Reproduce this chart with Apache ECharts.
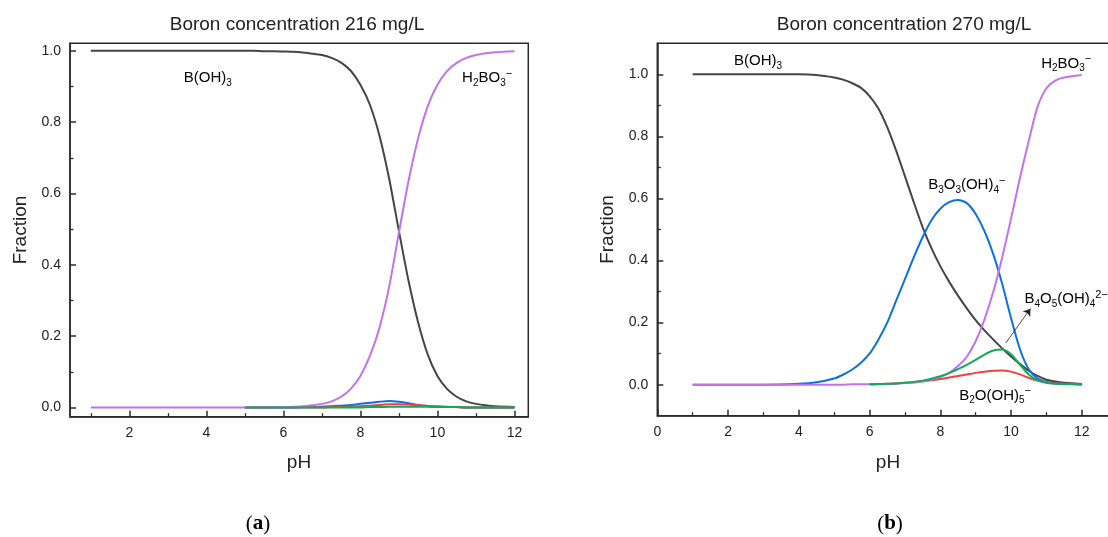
<!DOCTYPE html>
<html><head><meta charset="utf-8">
<script src="https://cdn.jsdelivr.net/npm/echarts@6/dist/echarts.min.js"></script>
<style>html,body{margin:0;padding:0;background:#fff}#c{width:1108px;height:537px}</style>
</head><body><div id="c"></div>
<script>
// ---------- data ----------
const pH = [1,2,3,4,4.5,5,5.25,5.5,5.75,6,6.25,6.5,6.75,7,7.25,7.5,7.75,8,8.25,8.5,8.75,9,9.25,9.5,9.75,10,10.25,10.5,10.75,11,11.25,11.5,12];

// (a) Boron 216 mg/L
const bOH3_A   = [1,1,1,1,1,1,1,0.999,0.999,0.998,0.997,0.995,0.992,0.988,0.98,0.967,0.944,0.905,0.848,0.76,0.64,0.495,0.355,0.238,0.148,0.088,0.052,0.03,0.017,0.01,0.006,0.003,0.001];
const h2bo3_A  = [0,0,0,0,0,0,0,0,0,0.001,0.002,0.003,0.006,0.01,0.017,0.03,0.052,0.088,0.145,0.225,0.34,0.49,0.635,0.755,0.845,0.905,0.943,0.966,0.98,0.988,0.993,0.996,0.999];
const b3o3_A   = [null,null,null,null,null,0,0,0,0,0,0,0.001,0.001,0.002,0.003,0.005,0.007,0.01,0.013,0.016,0.018,0.016,0.012,0.007,0.004,0.002,0.001,0.001,0,0,0,0,0];
const b2o_A    = [null,null,null,null,null,0,0,0,0,0,0,0,0,0,0.001,0.001,0.002,0.003,0.005,0.007,0.009,0.009,0.008,0.006,0.004,0.003,0.002,0.001,0,0,0,0,0];
const b4o5_A   = [null,null,null,null,null,0,0,0,0,0,0,0,0,0,0,0,0,0,0.001,0.001,0.002,0.002,0.002,0.002,0.002,0.001,0.001,0.001,0,0,0,0,0];

// (b) Boron 270 mg/L
const bOH3_B   = [1,1,1,1,0.998,0.99,0.983,0.972,0.957,0.93,0.89,0.83,0.755,0.672,0.588,0.508,0.44,0.382,0.332,0.287,0.246,0.208,0.175,0.145,0.117,0.091,0.067,0.045,0.028,0.016,0.01,0.006,0.002];
const b3o3_B   = [0,0,0,0.003,0.008,0.02,0.032,0.048,0.07,0.1,0.145,0.2,0.27,0.34,0.41,0.475,0.53,0.567,0.588,0.595,0.585,0.55,0.495,0.42,0.325,0.215,0.115,0.05,0.02,0.009,0.005,0.003,0.001];
const h2bo3_B  = [0,0,0,0,0,0,0,0.001,0.001,0.001,0.002,0.002,0.003,0.005,0.007,0.01,0.016,0.025,0.038,0.06,0.09,0.14,0.21,0.3,0.41,0.535,0.665,0.785,0.895,0.955,0.98,0.99,0.998];
const b4o5_B   = [null,null,null,null,null,null,null,null,null,0.001,0.002,0.003,0.004,0.006,0.009,0.013,0.019,0.027,0.037,0.05,0.064,0.08,0.097,0.11,0.113,0.098,0.065,0.033,0.014,0.006,0.003,0.002,0];
const b2o_B    = [null,null,null,null,null,null,null,null,null,0.001,0.002,0.003,0.004,0.006,0.008,0.011,0.014,0.018,0.023,0.028,0.033,0.038,0.042,0.045,0.046,0.042,0.033,0.022,0.013,0.007,0.004,0.003,0.001];

// tick labels
const xTicksA = [2,4,6,8,10,12];
const xMinorA = [1,3,5,7,9,11];
const xTicksB = [0,2,4,6,8,10,12,14];
const xMinorB = [1,3,5,7,9,11,13];
const yTicks  = [0,0.2,0.4,0.6,0.8,1.0];
const yMinor  = [0.1,0.3,0.5,0.7,0.9];

// texts
const titleA = 'Boron concentration 216 mg/L';
const titleB = 'Boron concentration 270 mg/L';

// ---------- chart ----------
const FF = '"Liberation Sans", Arial, sans-serif';
const AX = '#2b2b2b';
const C = {black:'#454545', purple:'#c173ea', blue:'#0b70e2', green:'#13a95b', red:'#f2403f'};

function mainX(gi, min, max, ticks){
  return {type:'value', gridIndex:gi, min, max, position:'bottom',
    axisLine:{show:true, onZero:false, lineStyle:{color:AX, width:1.5}},
    axisTick:{show:true, inside:true, length:6, customValues:ticks, lineStyle:{color:AX, width:1.5}},
    axisLabel:{customValues:ticks, margin:9, color:'#222', fontSize:14, fontFamily:FF},
    splitLine:{show:false}};
}
function minorAx(gi, min, max, ticks, len, pos){
  return {type:'value', gridIndex:gi, min, max, position:pos,
    axisLine:{show:false, onZero:false},
    axisTick:{show:true, inside:true, length:len, customValues:ticks, lineStyle:{color:AX, width:1.3}},
    axisLabel:{show:false, customValues:ticks}, splitLine:{show:false}};
}
function mainY(gi, min, max, ticks){
  return {type:'value', gridIndex:gi, min, max, position:'left',
    name:'Fraction', nameLocation:'middle', nameGap:40,
    nameTextStyle:{fontSize:19, color:'#222', fontFamily:FF},
    axisLine:{show:true, onZero:false, lineStyle:{color:AX, width:1.5}},
    axisTick:{show:true, inside:true, length:6, customValues:ticks, lineStyle:{color:AX, width:1.5}},
    axisLabel:{customValues:ticks, margin:9, color:'#222', fontSize:14, fontFamily:FF, formatter:v=>v.toFixed(1)},
    splitLine:{show:false}};
}
function mk(name, ys, color, xi, yi, z, extra){
  const data = [];
  pH.forEach((x,i)=>{ if(ys[i]!=null) data.push([x, ys[i]]); });
  return Object.assign({name, type:'line', xAxisIndex:xi, yAxisIndex:yi, data, symbol:'none', showSymbol:false,
    smooth:0.25, lineStyle:{color, width:2}, itemStyle:{color}, z, animation:false}, extra||{});
}

const chart = echarts.init(document.getElementById('c'), null, {renderer:'canvas'});
const option = {
  animation:false,
  backgroundColor:'#fff',
  grid:[
    {left:70, top:43.3, width:458.3, height:373.4, show:true, borderColor:AX, borderWidth:1.5, backgroundColor:'transparent', containLabel:false, outerBoundsMode:'none'},
    {left:657.3, top:43.3, width:495.2, height:372.4, show:true, borderColor:AX, borderWidth:1.5, backgroundColor:'transparent', containLabel:false, outerBoundsMode:'none'}
  ],
  xAxis:[
    mainX(0, 0.46, 12.36, xTicksA),
    minorAx(0, 0.46, 12.36, xMinorA, 3.5, 'bottom'),
    mainX(1, 0, 14, xTicksB),
    minorAx(1, 0, 14, xMinorB, 3.5, 'bottom')
  ],
  yAxis:[
    mainY(0, -0.026, 1.021, yTicks),
    minorAx(0, -0.026, 1.021, yMinor, 3.5, 'left'),
    mainY(1, -0.1, 1.1, yTicks),
    minorAx(1, -0.1, 1.1, yMinor, 3.5, 'left')
  ],
  series:[
    mk('B(OH)3 a', bOH3_A, C.black, 0, 0, 2),
    mk('B3O3(OH)4 a', b3o3_A, C.blue, 0, 0, 3),
    mk('B2O(OH)5 a', b2o_A, C.red, 0, 0, 4),
    mk('H2BO3 a', h2bo3_A, C.purple, 0, 0, 5),
    mk('B4O5(OH)4 a', b4o5_A, C.green, 0, 0, 6),
    mk('B(OH)3 b', bOH3_B, C.black, 2, 2, 2),
    mk('B3O3(OH)4 b', b3o3_B, C.blue, 2, 2, 3),
    mk('B2O(OH)5 b', b2o_B, C.red, 2, 2, 4),
    mk('H2BO3 b', h2bo3_B, C.purple, 2, 2, 5),
    mk('B4O5(OH)4 b', b4o5_B, C.green, 2, 2, 6, {
      markLine:{silent:true, animation:false, symbol:['none','arrow'], symbolSize:7,
        lineStyle:{color:'#222', width:0.8, type:'solid'}, label:{show:false},
        data:[[{coord:[9.85,0.134]},{coord:[10.55,0.245]}]]}
    })
  ]
};
chart.setOption(option);

// annotations (data coordinates)
const rich = {
  m:{fontSize:15, fontFamily:FF, color:'#222', lineHeight:20},
  s:{fontSize:10, fontFamily:FF, color:'#222', lineHeight:10, verticalAlign:'bottom'},
  p:{fontSize:11, fontFamily:FF, color:'#222', lineHeight:10, verticalAlign:'top'}
};
const annA = [
  {x:4.04, y:0.923, t:'{m|B(OH)}{s|3}', a:'center'},
  {x:11.29, y:0.923, t:'{m|H}{s|2}{m|BO}{s|3}{p|−}', a:'center'}
];
const annB = [
  {x:2.85, y:1.042, t:'{m|B(OH)}{s|3}', a:'center'},
  {x:11.56, y:1.035, t:'{m|H}{s|2}{m|BO}{s|3}{p|−}', a:'center'},
  {x:8.75, y:0.643, t:'{m|B}{s|3}{m|O}{s|3}{m|(OH)}{s|4}{p|−}', a:'center'},
  {x:10.38, y:0.275, t:'{m|B}{s|4}{m|O}{s|5}{m|(OH)}{s|4}{p|2−}', a:'left'},
  {x:9.55, y:-0.035, t:'{m|B}{s|2}{m|O(OH)}{s|5}{p|−}', a:'center'}
];
const g = [];
function addAnn(list, xi, yi){
  list.forEach(o=>{
    const p = chart.convertToPixel({xAxisIndex:xi, yAxisIndex:yi}, [o.x, o.y]);
    g.push({type:'text', x:p[0], y:p[1], z:100, style:{text:o.t, rich, align:o.a, verticalAlign:'middle'}});
  });
}
addAnn(annA, 0, 0);
addAnn(annB, 2, 2);
function plain(x, y, txt, size){
  g.push({type:'text', x, y, z:100, style:{text:txt, fontSize:size, fontFamily:FF, fill:'#222', align:'center', verticalAlign:'middle'}});
}
plain(297, 25, titleA, 19);
plain(904, 25, titleB, 19);
plain(299, 463, 'pH', 19);
plain(888, 463, 'pH', 19);
const serif = {p:{fontSize:21, fontFamily:'"Liberation Serif", serif', color:'#111'}, b:{fontSize:21, fontFamily:'"Liberation Serif", serif', fontWeight:'bold', color:'#111'}};
g.push({type:'text', x:258, y:524, z:100, style:{text:'{p|(}{b|a}{p|)}', rich:serif, align:'center', verticalAlign:'middle'}});
g.push({type:'text', x:890, y:524, z:100, style:{text:'{p|(}{b|b}{p|)}', rich:serif, align:'center', verticalAlign:'middle'}});
chart.setOption({graphic:g});
</script></body></html>
